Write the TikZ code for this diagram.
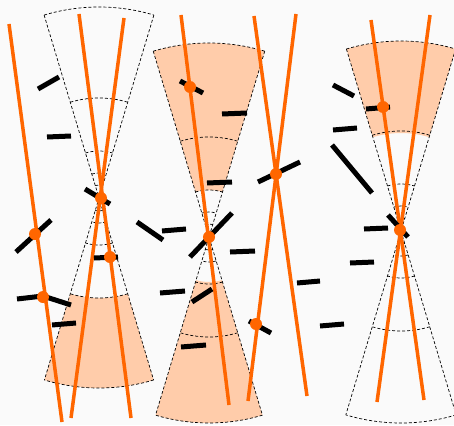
\documentclass[tikz,border=0pt]{standalone}
\usepackage{tikz}
\definecolor{paper}{RGB}{250,250,250}
\definecolor{band}{RGB}{255,204,170}
\definecolor{rayorange}{RGB}{255,102,0}
\tikzset{
  cone/.style={dash pattern=on 3pt off 2pt, line width=0.7pt},
  ray/.style={rayorange, line width=3.5pt},
  bar/.style={line width=5pt},
  hit/.style={circle, fill=rayorange, inner sep=0pt, minimum size=12pt}
}

\begin{document}
\begin{tikzpicture}[x=1pt,y=-1pt]
    \useasboundingbox (0,0) rectangle (454,425);
    \fill[paper] (0,0) rectangle (454,425);
    % shaded bands
    \begin{scope}[shift={(99,198)}]
        \fill[band] (73.3:100) arc[start angle=73.3,end angle=106.7,radius=100] -- (106.7:190) arc[start angle=106.7,end angle=73.3,radius=190] -- cycle;
    \end{scope}
    \begin{scope}[shift={(209,237)}]
        \fill[band] (253.3:47) arc[start angle=253.3,end angle=286.7,radius=47] -- (286.7:194) arc[start angle=286.7,end angle=253.3,radius=194] -- cycle;
        \fill[band] (73.3:45) arc[start angle=73.3,end angle=106.7,radius=45] -- (106.7:186) arc[start angle=106.7,end angle=73.3,radius=186] -- cycle;
    \end{scope}
    \begin{scope}[shift={(401,231)}]
        \fill[band] (253.3:98) arc[start angle=253.3,end angle=286.7,radius=98] -- (286.7:190) arc[start angle=286.7,end angle=253.3,radius=190] -- cycle;
    \end{scope}
    % double cones
    \foreach \cx/\cy/\rt/\rb in {99/198/191/190, 209/237/194/186, 401/231/190/192}{
        \begin{scope}[shift={(\cx,\cy)}, cone]
            \draw (253.3:\rt) -- (73.3:\rb);
            \draw (286.7:\rt) -- (106.7:\rb);
            \draw (253.3:\rt) arc[start angle=253.3,end angle=286.7,radius=\rt];
            \draw (73.3:\rb) arc[start angle=73.3,end angle=106.7,radius=\rb];
            \foreach \r in {13,25,47,100}{
                \draw (253.3:\r) arc[start angle=253.3,end angle=286.7,radius=\r];
                \draw (73.3:\r) arc[start angle=73.3,end angle=106.7,radius=\r];
            }
        \end{scope}
    }
    % tracks
    \foreach \xa/\ya/\xb/\yb in {9/24/62/422, 79/14/131/418, 124/18/71/418, 181/15/229/405,
        254/16/307/396, 296/14/248/401, 371/20/424/400, 430/15/377/402}
        \draw[ray] (\xa,\ya) -- (\xb,\yb);
    % hits
    \foreach \xa/\ya/\xb/\yb in {38/89/59/77, 47/137/71/136, 85/189/110/204, 16/252/51/220,
        17/299/43/296, 43/296/71/305, 52/325/76/323, 94/258/118/257, 137/222/163/240,
        180/81/203/93, 222/114/247/113, 207/183/232/182, 258/182/300/162, 190/257/232/213,
        162/231/186/229, 230/252/255/251, 160/293/185/291, 192/302/212/289, 181/347/206/345,
        249/321/271/333, 297/283/320/281, 320/326/344/324, 333/85/354/96, 366/109/390/107,
        333/130/357/128, 332/145/372/193, 388/215/408/237, 364/229/388/228, 350/263/374/262}
        \draw[bar] (\xa,\ya) -- (\xb,\yb);
    \foreach \p [count=\i] in {(35,234), (43,297), (101,198), (110,257), (190,87),
        (209,237), (276,174), (256,324), (383,107), (400,230)}
        \node[hit] (h\i) at \p {};
\end{tikzpicture}
\end{document}
